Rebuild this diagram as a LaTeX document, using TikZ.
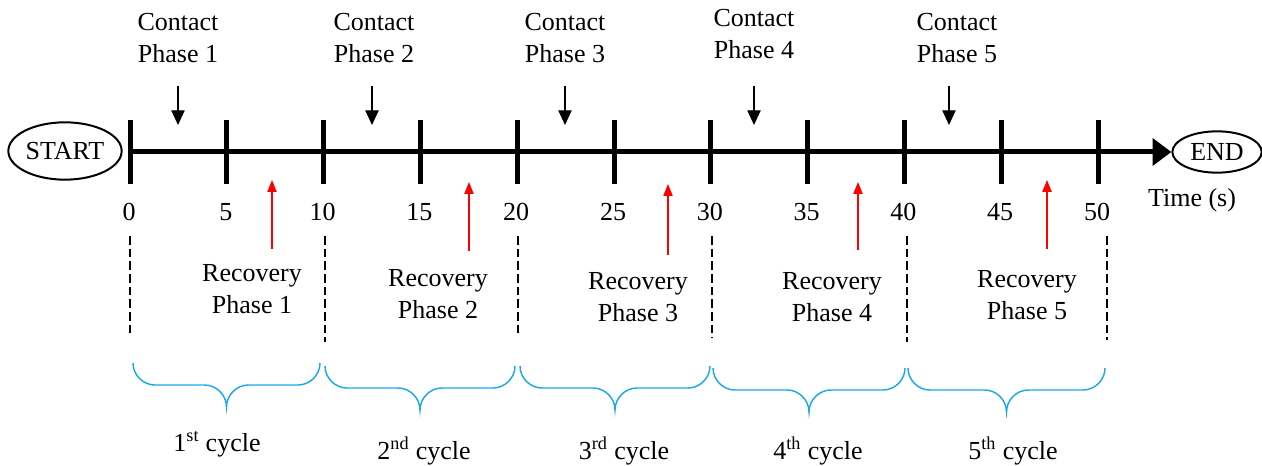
\documentclass[tikz,border=0pt]{standalone}
\usepackage{fontspec}
\setmainfont{LiberationSerif}[Extension=.ttf,UprightFont=*-Regular,BoldFont=*-Bold,ItalicFont=*-Italic,BoldItalicFont=*-BoldItalic]
\usetikzlibrary{arrows.meta,shapes.geometric}
\definecolor{braceblue}{RGB}{30,168,232}

\begin{document}
\begin{tikzpicture}[x=0.75pt,y=0.75pt,yscale=-1,xscale=1,
  lbl/.style={inner sep=0.75pt,align=center,font=\rmfamily\fontsize{19.5}{24}\selectfont},
  endnode/.style={draw,ellipse,line width=1.5pt,inner sep=0pt,font=\rmfamily\fontsize{19.5}{24}\selectfont},
  tickline/.style={line width=3.75pt},
  contactarrow/.style={-{Triangle[length=11pt,width=10pt]},line width=0.9pt},
  recoveryarrow/.style={red,-{Triangle[length=9pt,width=7pt]},line width=0.9pt},
  cycleline/.style={line width=1.7pt,dash pattern=on 6.5pt off 3pt},
  cyclebrace/.style={draw=braceblue,line width=1.1pt}]
\useasboundingbox (0,0) rectangle (1262,466);

% Start and end
\node[endnode,minimum width=85pt,minimum height=43pt] (start) at (65,151) {START};
\node[endnode,minimum width=67pt,minimum height=31pt] (finish) at (1217,152) {END};

% Time axis
\foreach \i in {0,...,10} {
  \coordinate (t\i) at (130+96.8*\i,152);
  \draw[tickline] (130+96.8*\i,120) -- (130+96.8*\i,184);
  \pgfmathtruncatemacro\sec{5*\i}
  \node[lbl] (n\i) at (129+96.8*\i,212) {\sec};
}
\draw[line width=3.75pt,-{Triangle[length=14pt,width=20pt]}] (t0) -- (finish.west);
% Text Node
\node[lbl] (time) at (1192,200) {Time (s)};

% Contact phases
\node[lbl] (cp1) at (178,38) {Contact\\Phase 1};
\node[lbl] (cp2) at (374,38) {Contact\\Phase 2};
\node[lbl] (cp3) at (565,38) {Contact\\Phase 3};
\node[lbl] (cp4) at (754,34) {Contact\\Phase 4};
\node[lbl] (cp5) at (957,38) {Contact\\Phase 5};
\coordinate (ca1) at (178,86);  \coordinate (cb1) at (178,125);
\coordinate (ca2) at (372,86);  \coordinate (cb2) at (372,125);
\coordinate (ca3) at (565,86);  \coordinate (cb3) at (565,125);
\coordinate (ca4) at (754,86);  \coordinate (cb4) at (754,125);
\coordinate (ca5) at (949,86);  \coordinate (cb5) at (949,125);
\foreach \i in {1,...,5} \draw[contactarrow] (ca\i) -- (cb\i);

% Recovery phases
\node[lbl] (rp1) at (252,289) {Recovery\\Phase 1};
\node[lbl] (rp2) at (438,294) {Recovery\\Phase 2};
\node[lbl] (rp3) at (638,297) {Recovery\\Phase 3};
\node[lbl] (rp4) at (832,297) {Recovery\\Phase 4};
\node[lbl] (rp5) at (1027,295) {Recovery\\Phase 5};
\coordinate (ra1) at (272,249);  \coordinate (rb1) at (272,180);
\coordinate (ra2) at (469,251);  \coordinate (rb2) at (469,182);
\coordinate (ra3) at (668,255);  \coordinate (rb3) at (668,184);
\coordinate (ra4) at (858,250);  \coordinate (rb4) at (858,182);
\coordinate (ra5) at (1047,249); \coordinate (rb5) at (1047,180);
\foreach \i in {1,...,5} \draw[recoveryarrow] (ra\i) -- (rb\i);

% Cycle borders
\foreach \x/\b in {130/336,325/342,518/336,712/338,907/342,1107/340}
  \draw[cycleline] (\x,236) -- (\x,\b);

% Braces
\foreach \a/\b/\y in {133/320/363,325/515/366,520/710/366,713/905/368,908/1105/368} {
  \pgfmathsetmacro\m{(\a+\b)/2}
  \draw[cyclebrace] (\a,\y) .. controls (\a,\y+12) and (\a+10,\y+22) .. (\a+22,\y+22)
    -- (\m-22,\y+22) .. controls (\m-10,\y+22) and (\m,\y+32) .. (\m,\y+44)
    .. controls (\m,\y+32) and (\m+10,\y+22) .. (\m+22,\y+22)
    -- (\b-22,\y+22) .. controls (\b-10,\y+22) and (\b,\y+12) .. (\b,\y);
}

% Text Node
\node[lbl] (cy1) at (217,444) {1\textsuperscript{st} cycle};
\node[lbl] (cy2) at (424,451) {2\textsuperscript{nd} cycle};
\node[lbl] (cy3) at (624,451) {3\textsuperscript{rd} cycle};
\node[lbl] (cy4) at (818,451) {4\textsuperscript{th} cycle};
\node[lbl] (cy5) at (1013,451) {5\textsuperscript{th} cycle};
\end{tikzpicture}
\end{document}
